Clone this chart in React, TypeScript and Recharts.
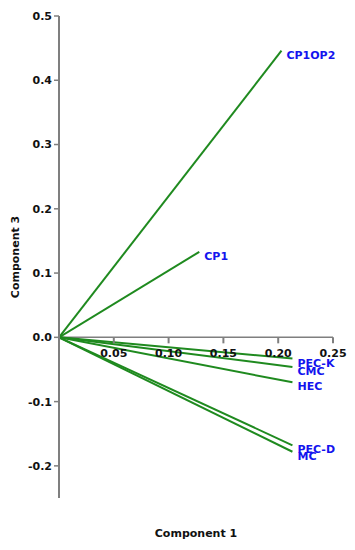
import { LineChart, Line, XAxis, YAxis, ReferenceLine } from 'recharts';

// loadings (component 1 vs component 3)
const names = ['CP1OP2', 'CP1', 'PEC-K', 'CMC', 'HEC', 'PEC-D', 'MC'];
const comp1 = [0.203, 0.128, 0.213, 0.213, 0.213, 0.213, 0.213];
const comp3 = [0.446, 0.133, -0.033, -0.046, -0.07, -0.168, -0.178];

const xTicks = [0.05, 0.1, 0.15, 0.2, 0.25];
const yTicks = [-0.2, -0.1, 0, 0.1, 0.2, 0.3, 0.4, 0.5];

const W = 355;
const H = 550;
const TOP = 16;
const X_AXIS_H = 52;
const Y_MIN = -0.25;
const Y_MAX = 0.5;
const GREY = '#7f7f7f';
const GREEN = '#1f8a1f';
const BLUE = '#1414ee';
const FONT = '"DejaVu Sans", Verdana, sans-serif';

// distance from the bottom of the plot up to the y = 0 line
const plotH = H - TOP - X_AXIS_H;
const zeroUp = (plotH * (0 - Y_MIN)) / (Y_MAX - Y_MIN);

function XTick(props: any) {
  const { x, y, payload } = props;
  const y0 = y - zeroUp;
  return (
    <g>
      <line x1={x} x2={x} y1={y0} y2={y0 + 6} stroke={GREY} strokeWidth={2} />
      <text x={x} y={y0 + 20} textAnchor="middle" fontFamily={FONT} fontWeight="bold" fontSize={11} fill="#111">
        {payload.value.toFixed(2)}
      </text>
    </g>
  );
}

function YTitle(props: any) {
  const { viewBox } = props;
  const cx = 15;
  const cy = viewBox.y + viewBox.height / 2;
  return (
    <text x={cx} y={cy} transform={`rotate(-90, ${cx}, ${cy})`} textAnchor="middle" dominantBaseline="central"
      fontFamily={FONT} fontWeight="bold" fontSize={11} fill="#111">
      Component 3
    </text>
  );
}

function XTitle(props: any) {
  const { viewBox } = props;
  return (
    <text x={viewBox.x + viewBox.width / 2} y={537} textAnchor="middle" fontFamily={FONT} fontWeight="bold" fontSize={11} fill="#111">
      Component 1
    </text>
  );
}

export default function App() {
  const vectors = names.map((name, i) => ({
    name,
    data: [
      { x: 0, y: 0 },
      { x: comp1[i], y: comp3[i] },
    ],
  }));

  return (
    <div>
      <style>{'body{margin:0}'}</style>
      <LineChart width={W} height={H} margin={{ top: TOP, right: 22, bottom: 0, left: 0 }}>
        <XAxis
          type="number"
          dataKey="x"
          domain={[0, 0.25]}
          ticks={xTicks}
          axisLine={false}
          tickLine={false}
          tickSize={0}
          tickMargin={0}
          height={X_AXIS_H}
          tick={<XTick />}
          label={<XTitle />}
          allowDataOverflow
        />
        <YAxis
          type="number"
          dataKey="y"
          domain={[Y_MIN, Y_MAX]}
          ticks={yTicks}
          width={59}
          axisLine={{ stroke: GREY, strokeWidth: 2 }}
          tickLine={{ stroke: GREY, strokeWidth: 1.5 }}
          tickSize={5}
          tickMargin={2}
          tick={{ fontFamily: FONT, fontWeight: 'bold', fontSize: 11, fill: '#111' }}
          tickFormatter={(v: number) => v.toFixed(1)}
          label={<YTitle />}
          allowDataOverflow
        />
        <ReferenceLine y={0} stroke={GREY} strokeWidth={1.5} />
        {vectors.map((v) => (
          <Line
            key={v.name}
            data={v.data}
            dataKey="y"
            stroke={GREEN}
            strokeWidth={2}
            dot={false}
            activeDot={false}
            isAnimationActive={false}
            label={(p: any) =>
              p.index === 1 ? (
                <text key={v.name} x={p.x + 5} y={p.y + 8} fontFamily={FONT} fontWeight="bold" fontSize={11} fill={BLUE}>
                  {v.name}
                </text>
              ) : (
                <g key={v.name + '-0'} />
              )
            }
          />
        ))}
      </LineChart>
    </div>
  );
}
